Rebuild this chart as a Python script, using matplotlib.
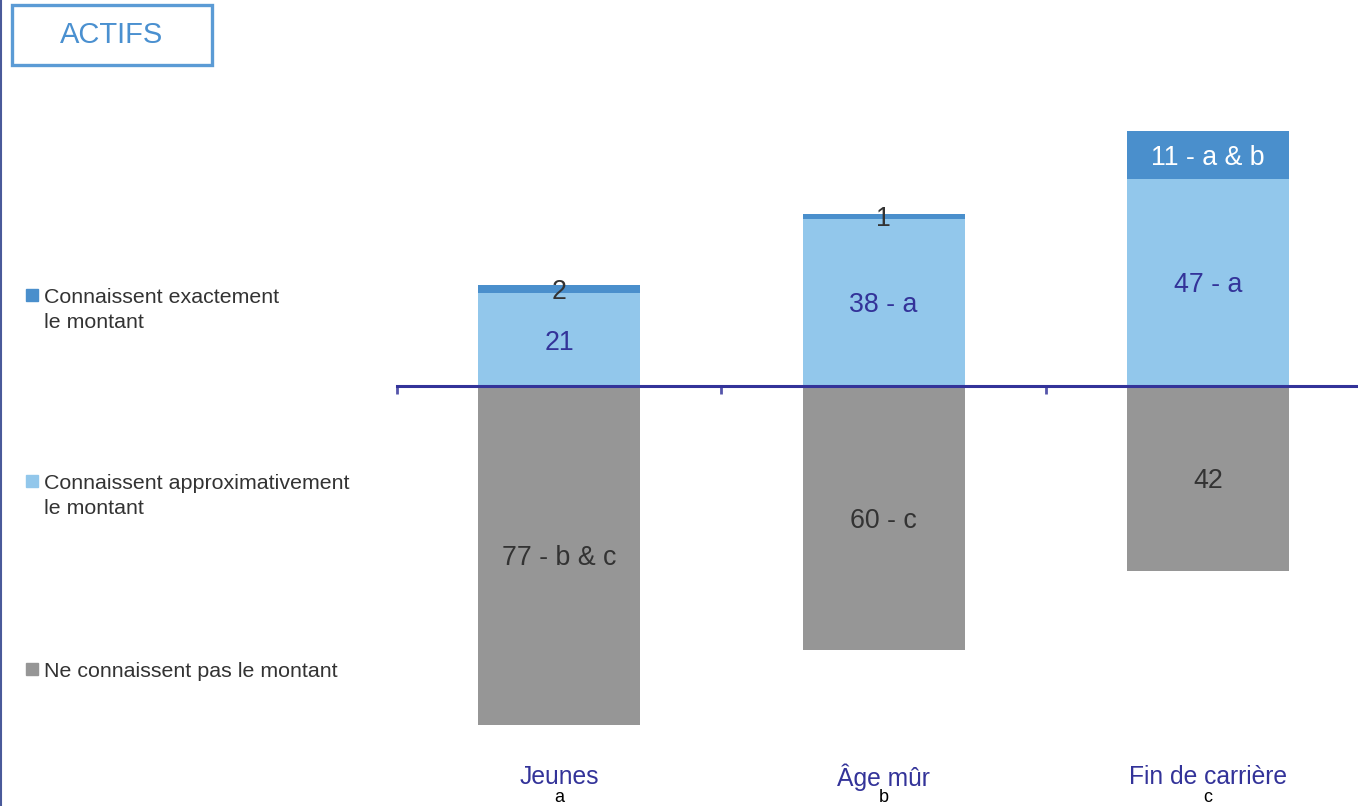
import matplotlib.pyplot as plt
from matplotlib.patches import Rectangle
from matplotlib.lines import Line2D
import matplotlib.transforms as mtransforms

plt.rcParams['font.family'] = ['Liberation Sans', 'DejaVu Sans']

categories = ["Jeunes", "Âge mûr", "Fin de carrière"]
letters = ["a", "b", "c"]
exact = [2, 1, 11]
approx = [21, 38, 47]
unknown = [77, 60, 42]
exact_labels = ["2", "1", "11 - a & b"]
approx_labels = ["21", "38 - a", "47 - a"]
unknown_labels = ["77 - b & c", "60 - c", "42"]
legend_labels = ["Connaissent exactement\nle montant",
                 "Connaissent approximativement\nle montant",
                 "Ne connaissent pas le montant"]

c_exact = '#4a8fcc'
c_approx = '#92c7eb'
c_unknown = '#969696'
navy = '#333399'
dark = '#333333'

W, H = 1358, 806
fig = plt.figure(figsize=(W / 100, H / 100), dpi=100)

# axes placed in pixel terms: x from 397 to 1358, y from 80 to 740 (top-down)
ax = fig.add_axes([397 / W, (H - 740) / H, (W - 397) / W, 660 / H])
ax.set_xlim(-0.5, 2.462)
ax.set_ylim(-80.45, 69.5)

x = list(range(len(categories)))
neg = [-v for v in unknown]
ax.bar(x, neg, width=0.5, color=c_unknown)
ax.bar(x, approx, width=0.5, color=c_approx)
ax.bar(x, exact, width=0.5, bottom=approx, color=c_exact)

# nudge labels down a few pixels so the digits look centred
lab_tr = ax.transData + mtransforms.ScaledTranslation(0, -3 / 100, fig.dpi_scale_trans)
for i in x:
    ax.text(i, -unknown[i] / 2, unknown_labels[i], ha='center', va='center',
            fontsize=19.3, color=dark, transform=lab_tr)
    ax.text(i, approx[i] / 2, approx_labels[i], ha='center', va='center',
            fontsize=19.3, color=navy, transform=lab_tr)
    ax.text(i, approx[i] + exact[i] / 2, exact_labels[i], ha='center', va='center',
            fontsize=19.3, color='white' if exact[i] >= 5 else dark,
            transform=lab_tr)

for s in ['top', 'right', 'left']:
    ax.spines[s].set_visible(False)
ax.spines['bottom'].set_position(('data', 0))
ax.spines['bottom'].set_color(navy)
ax.spines['bottom'].set_linewidth(2.2)
ax.set_xticks([-0.5, 0.5, 1.5])
ax.set_xticklabels([])
ax.tick_params(axis='x', direction='out', length=6, width=2, color='#5555aa')
ax.set_yticks([])

trans = mtransforms.blended_transform_factory(ax.transData, fig.transFigure)
for i in x:
    ax.text(i, 1 - 777 / H, categories[i], transform=trans, ha='center',
            va='center', fontsize=17.7, color=navy)
    ax.text(i, 1 - 798 / H, letters[i], transform=trans, ha='center',
            va='center', fontsize=13, color='black')

# legend drawn by hand on the left
leg_colors = [c_exact, c_approx, c_unknown]
leg_y = [295, 481, 669]
for lab, col, yy in zip(legend_labels, leg_colors, leg_y):
    fig.patches.append(Rectangle((26 / W, 1 - (yy + 6) / H), 12 / W, 12 / H,
                                 transform=fig.transFigure, color=col))
    fig.text(44 / W, 1 - (yy - 7) / H, lab, ha='left', va='top',
             fontsize=15.4, color=dark, linespacing=1.4)

# title box
fig.patches.append(Rectangle((12 / W, 1 - 65 / H), 200 / W, 60 / H,
                             transform=fig.transFigure, fill=False,
                             edgecolor='#5b9bd5', linewidth=2.4))
fig.text(112 / W, 1 - 35 / H, "ACTIFS", ha='center', va='center',
         fontsize=21, color='#4a90d0')

# thin frame line on the left edge
fig.lines.append(Line2D([1 / W, 1 / W], [0, 1], transform=fig.transFigure,
                        color='#4a5a9a', linewidth=1.5))

fig.savefig('out.png', dpi=100)
